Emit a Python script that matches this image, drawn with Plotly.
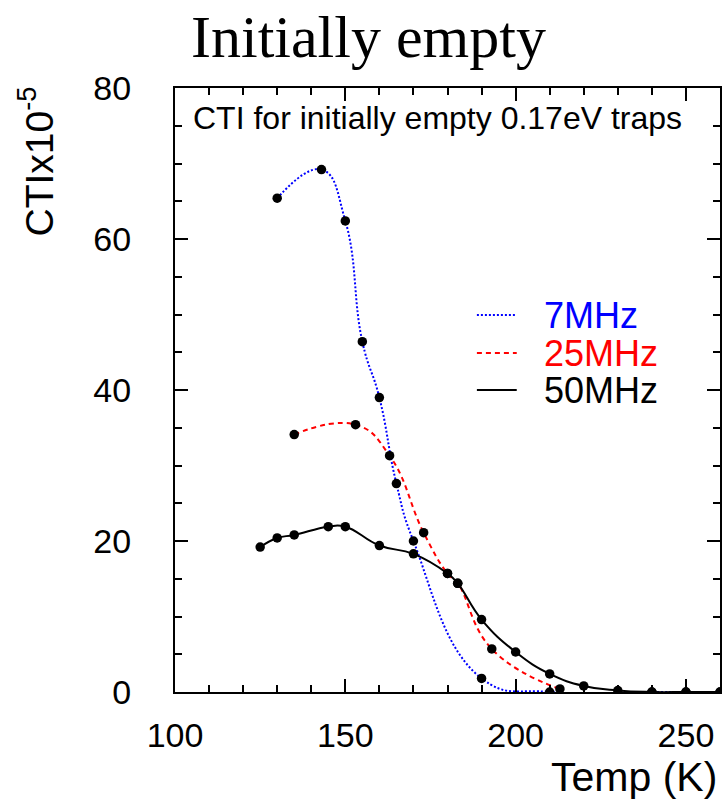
import plotly.graph_objects as go

# ---- data ----
temp_7mhz = [130, 143, 150, 155, 160, 165, 170, 190, 210, 240, 250, 260]
cti_7mhz = [65.4, 69.2, 62.4, 46.4, 39.0, 27.6, 20.0, 1.8, 0.0, 0.0, 0.0, 0.0]

temp_25mhz = [135, 153, 163, 173, 180, 183, 193, 213]
cti_25mhz = [34.1, 35.4, 31.3, 21.1, 15.7, 14.4, 5.7, 0.4]

temp_50mhz = [125, 130, 135, 145, 150, 160, 170, 180, 183, 190, 200, 210, 220, 230, 240, 250, 260]
cti_50mhz = [19.2, 20.4, 20.8, 21.9, 21.9, 19.4, 18.3, 15.7, 14.4, 9.6, 5.3, 2.4, 0.8, 0.2, 0.0, 0.0, 0.0]

series_names = ["7MHz", "25MHz", "50MHz"]
x_ticks = [100, 150, 200, 250]
y_ticks = [0, 20, 40, 60, 80]

# ---- styling ----
W, H = 725, 801
L, R, T, B = 175, 3, 88, 109
PW, PH = W - L - R, H - T - B
SANS = "Liberation Sans"
SERIF = "Liberation Serif"

def px_x(p):
    return (p - L) / PW

def px_y(p):
    return (H - B - p) / PH

styles = [("#0000ff", "2px,2px"), ("#ff0000", "5px,4px"), ("#000000", "solid")]
data = [(temp_7mhz, cti_7mhz), (temp_25mhz, cti_25mhz), (temp_50mhz, cti_50mhz)]

fig = go.Figure()
for (xs, ys), (col, dash), nm in zip(data, styles, series_names):
    fig.add_trace(go.Scatter(x=xs, y=ys, mode="lines", name=nm, showlegend=False,
                             line=dict(color=col, width=2, dash=dash, shape="spline", smoothing=1.3)))
for (xs, ys), nm in zip(data, series_names):
    fig.add_trace(go.Scatter(x=xs, y=ys, mode="markers", name=nm, showlegend=False,
                             marker=dict(color="black", size=9.5)))

axis_common = dict(showline=True, linewidth=2, linecolor="black", mirror="allticks",
                   ticks="inside", ticklen=13, tickwidth=1.5, tickcolor="black",
                   showgrid=False, zeroline=False,
                   tickfont=dict(family=SANS, size=34, color="black"))

fig.update_xaxes(range=[100, 260], tickvals=x_ticks, ticklabelstandoff=12,
                 minor=dict(dtick=10, tick0=100, ticks="inside", ticklen=7, tickwidth=1.5,
                            tickcolor="black", showgrid=False),
                 **axis_common)
fig.update_yaxes(range=[0, 80], tickvals=y_ticks, ticklabelstandoff=35,
                 minor=dict(dtick=5, tick0=0, ticks="inside", ticklen=7, tickwidth=1.5,
                            tickcolor="black", showgrid=False),
                 **axis_common)

ann = []
ann.append(dict(text="Initially empty", x=px_x(369), y=px_y(37), xref="paper", yref="paper",
                xanchor="center", yanchor="middle", showarrow=False,
                font=dict(family=SERIF, size=60, color="black")))
ann.append(dict(text="CTI for initially empty 0.17eV traps", x=px_x(191), y=px_y(118),
                xref="paper", yref="paper", xanchor="left", yanchor="middle", showarrow=False,
                font=dict(family=SANS, size=32, color="black")))
ann.append(dict(text="CTIx10<sup>-5</sup>", x=px_x(36), y=px_y(162), xref="paper", yref="paper",
                xanchor="center", yanchor="middle", textangle=-90, showarrow=False,
                font=dict(family=SANS, size=39, color="black")))
ann.append(dict(text="Temp (K)", x=px_x(721), y=px_y(777), xref="paper", yref="paper",
                xanchor="right", yanchor="middle", showarrow=False,
                font=dict(family=SANS, size=41, color="black")))

shapes = []
legend_y = [315, 353, 390]
for (col, dash), nm, ly in zip(styles, series_names, legend_y):
    shapes.append(dict(type="line", xref="paper", yref="paper",
                       x0=px_x(478), x1=px_x(518), y0=px_y(ly), y1=px_y(ly),
                       line=dict(color=col, width=2, dash=dash)))
    ann.append(dict(text=nm, x=px_x(543), y=px_y(ly), xref="paper", yref="paper",
                    xanchor="left", yanchor="middle", showarrow=False,
                    font=dict(family=SANS, size=36, color=col)))

fig.update_layout(width=W, height=H, margin=dict(l=L, r=R, t=T, b=B),
                  paper_bgcolor="white", plot_bgcolor="white",
                  annotations=ann, shapes=shapes, showlegend=False)

fig.write_html("out.html", config={"displayModeBar": False},
               post_script="document.body.style.margin='0';document.body.style.overflow='hidden';")
